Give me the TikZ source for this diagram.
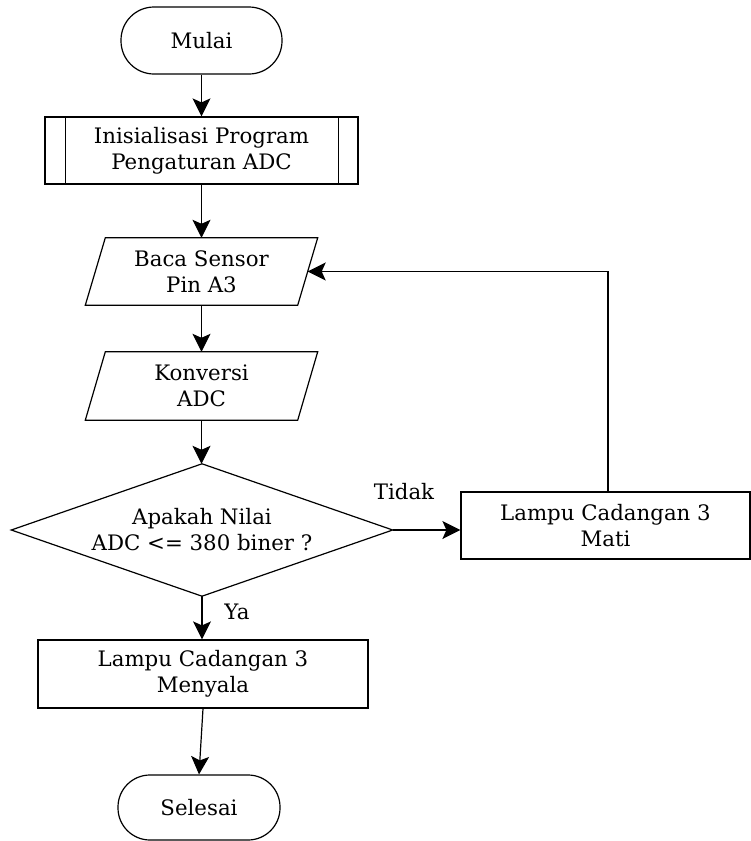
\documentclass[tikz,border=0pt]{standalone}
\usepackage{fontspec}
\setmainfont{DejaVu Serif}
\usetikzlibrary{arrows.meta}
\begin{document}
\begin{tikzpicture}[x=1pt,y=-1pt,
  every node/.style={font=\fontsize{21.3}{26}\selectfont, align=center, inner sep=0pt},
  box/.style={draw, line width=1.2pt, minimum width=#1, minimum height=67pt},
  term/.style={draw, line width=1.2pt, minimum width=#1, minimum height=67pt, rounded corners=33pt},
  hidden/.style={minimum width=#1, minimum height=67pt},
  flow/.style={line width=1.2pt, -{Stealth[length=18pt,width=18pt,inset=4pt]}},
  outline/.style={line width=1.2pt}
]
\useasboundingbox (0,0) rectangle (751,841);

% terminals and process boxes
\node[term=161pt] (mulai) at (201.5,40.5) {Mulai};
\node[box=313pt] (init) at (201.5,150.5) {Inisialisasi Program\\Pengaturan ADC};
\draw[outline] ([xshift=21pt]init.north west) -- ([xshift=21pt]init.south west);
\draw[outline] ([xshift=-20pt]init.north east) -- ([xshift=-20pt]init.south east);

% input/output parallelograms
\node[hidden=212pt] (baca) at (201.5,271.5) {Baca Sensor\\Pin A3};
\draw[outline] ([xshift=10pt]baca.north west) -- ([xshift=10pt]baca.north east)
  -- ([xshift=-10pt]baca.south east) -- ([xshift=-10pt]baca.south west) -- cycle;
\node[hidden=212pt, minimum height=68pt] (konv) at (201.5,386) {Konversi\\ADC};
\draw[outline] ([xshift=10pt]konv.north west) -- ([xshift=10pt]konv.north east)
  -- ([xshift=-10pt]konv.south east) -- ([xshift=-10pt]konv.south west) -- cycle;

% decision
\node[minimum width=381pt, minimum height=132pt] (dec) at (202,530) {Apakah Nilai\\ADC <= 380 biner ?};
\draw[outline] (dec.north) -- (dec.east) -- (dec.south) -- (dec.west) -- cycle;

\node[box=289pt] (mati) at (605.5,525.5) {Lampu Cadangan 3\\Mati};
\node[box=330pt, minimum height=68pt] (nyala) at (203,674) {Lampu Cadangan 3\\Menyala};
\node[term=162pt, minimum height=65pt, rounded corners=32pt] (selesai) at (199,807.5) {Selesai};

% connectors
\draw[flow] (mulai.south) -- (init.north);
\draw[flow] (init.south) -- (baca.north);
\draw[flow] (baca.south) -- (konv.north);
\draw[flow] (konv.south) -- (konv.south |- dec.north);
\draw[flow] (dec.east) -- (dec.east -| mati.west);
\draw[flow] (dec.south) -- (dec.south |- nyala.north);
\draw[flow] (nyala.south) -- (selesai.north);
\draw[flow] ([xshift=2.5pt]mati.north) |- (baca.east);

% branch labels
\node (tidak) at (404,492) {Tidak};
\node (ya) at (237,612) {Ya};
\end{tikzpicture}
\end{document}
